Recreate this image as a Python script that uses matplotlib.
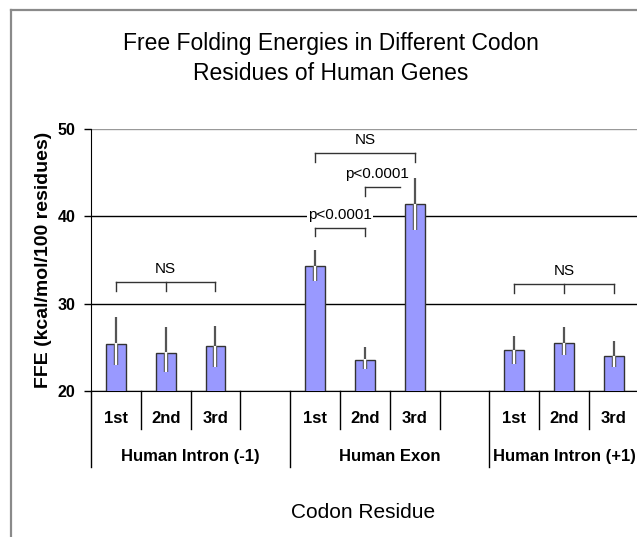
import matplotlib
matplotlib.use('Agg')
import matplotlib.pyplot as plt
import matplotlib.transforms as mtransforms
from matplotlib.lines import Line2D
import numpy as np

plt.rcParams['font.family'] = ['Liberation Sans', 'DejaVu Sans']

# ── data ────────────────────────────────────────────────────────────────
groups = ['Human Intron (-1)', 'Human Exon', 'Human Intron (+1)']
codon_pos = ['1st', '2nd', '3rd']
ffe = [25.4, 24.4, 25.1, 34.3, 23.6, 41.4, 24.7, 25.5, 24.0]
err_hi = [3.1, 2.9, 2.4, 1.9, 1.4, 3.0, 1.6, 1.8, 1.7]
err_lo = [2.4, 2.2, 2.4, 1.7, 1.1, 3.0, 1.6, 1.4, 1.3]

# significance brackets: (bar indices, height, label)
brackets = [
    ([0, 1, 2], 32.5, 'NS'),
    ([3, 4], 38.7, 'p<0.0001'),
    ([3, 5], 47.2, 'NS'),
    ([6, 7, 8], 32.2, 'NS'),
]

n_slots = 4  # 3 codon positions + empty slot per group
xpos = np.array([g * n_slots + p for g in range(len(groups)) for p in range(len(codon_pos))])

# ── figure ──────────────────────────────────────────────────────────────
W, H = 637, 537
fig = plt.figure(figsize=(W / 100, H / 100), dpi=100)
fig.patch.set_facecolor('white')

# chart border (cropped on the right and bottom)
fig.add_artist(Line2D([11 / W, 1], [1 - 10 / H, 1 - 10 / H], color='#8a8a8a', lw=1.6))
fig.add_artist(Line2D([11 / W, 11 / W], [0, 1 - 10 / H], color='#8a8a8a', lw=1.6))

slot_px = 49.8
ax = fig.add_axes([91 / W, (H - 391) / H, 12 * slot_px / W, 262 / H])
ax.set_xlim(-0.5, 11.5)
ax.set_ylim(20, 50)

ax.bar(xpos, ffe, width=0.4, color='#9999ff', edgecolor='#333333', linewidth=1, zorder=3)

# error bars: white inside the bar, grey above
tops = np.array(ffe)
ax.vlines(xpos, tops, tops + np.array(err_hi), color='#555555', lw=1.6, zorder=4)
ax.vlines(xpos, tops - np.array(err_lo), tops, color='#555555', lw=3.2, zorder=4)
ax.vlines(xpos, tops - np.array(err_lo), tops + 0.05, color='white', lw=1.6, zorder=5)

# y axis
ax.set_yticks([20, 30, 40, 50])
ax.tick_params(axis='y', direction='out', length=5, width=1, labelsize=11.5, pad=6)
for lab in ax.get_yticklabels():
    lab.set_fontweight('bold')
ax.grid(axis='y', color='black', lw=1, zorder=1)
ax.get_ygridlines()[-1].set_color('#999999')
ax.set_xticks([])
for s in ['top', 'right']:
    ax.spines[s].set_visible(False)
ax.spines['left'].set_bounds(20, 50)

ax.set_ylabel('FFE (kcal/mol/100 residues)', fontsize=14, fontweight='bold', labelpad=4)

# category dividers and labels below the axis
trans = mtransforms.blended_transform_factory(ax.transData, ax.transAxes)
for g in range(len(groups)):
    start = g * n_slots - 0.5
    ax.plot([start, start], [0, -0.290], color='black', lw=1, transform=trans, clip_on=False)
    for p in range(1, n_slots):
        ax.plot([start + p, start + p], [0, -0.145], color='black', lw=1,
                transform=trans, clip_on=False)
    for p, lab in enumerate(codon_pos):
        ax.text(g * n_slots + p, -0.104, lab, transform=trans, ha='center', va='center',
                fontsize=12, fontweight='bold')
group_x = [1.5, 5.5, 9.0]
for gx, lab in zip(group_x, groups):
    ax.text(gx, -0.250, lab, transform=trans, ha='center', va='center',
            fontsize=12, fontweight='bold')

# significance brackets
for idx, y, lab in brackets:
    xs = [xpos[i] for i in idx]
    ax.plot([xs[0], xs[-1]], [y, y], color='#333333', lw=1, zorder=6)
    for x in xs:
        ax.plot([x, x], [y, y - 1.0], color='#333333', lw=1, zorder=6)
    ax.text(np.mean([xs[0], xs[-1]]), y + 1.5, lab, ha='center', va='center', fontsize=11,
            zorder=7, bbox=dict(facecolor='white', edgecolor='none', pad=1))

# exon 2nd vs 3rd bracket (right end stops short of the error bar)
ax.plot([xpos[4], 5.7], [43.4, 43.4], color='#333333', lw=1, zorder=6)
ax.plot([xpos[4], xpos[4]], [43.4, 42.3], color='#333333', lw=1, zorder=6)
ax.text(5.24, 44.8, 'p<0.0001', ha='center', va='center', fontsize=11, zorder=7)

# titles
fig.text(331 / W, 1 - 58.5 / H, 'Free Folding Energies in Different Codon\nResidues of Human Genes',
         ha='center', va='center', fontsize=16.5, linespacing=1.4)
fig.text(363 / W, 1 - 512 / H, 'Codon Residue', ha='center', va='center', fontsize=15)

fig.savefig('out.png', dpi=100)
